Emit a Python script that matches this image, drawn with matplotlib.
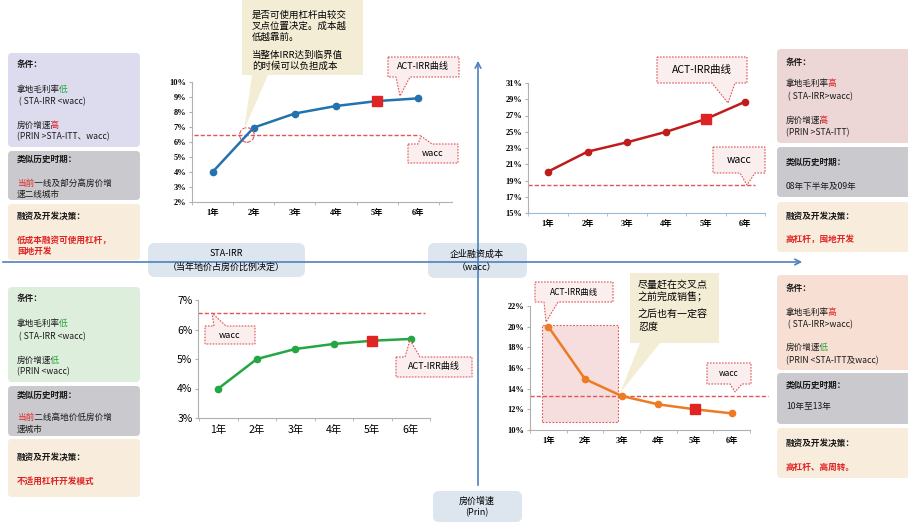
import matplotlib
matplotlib.use("Agg")
import matplotlib.pyplot as plt
from matplotlib.patches import FancyBboxPatch, Polygon, Rectangle
from matplotlib.ticker import PercentFormatter
from matplotlib.transforms import Bbox, TransformedBbox
import numpy as np

plt.rcParams['font.family'] = ['Noto Sans CJK SC', 'DejaVu Sans']

# ── data ─────────────────────────────────────────────────────────────────────
years = ['1年', '2年', '3年', '4年', '5年', '6年']
tl_irr = [4.0, 6.96, 7.9, 8.4, 8.73, 8.91]
tl_wacc = 6.47
tr_irr = [20.1, 22.55, 23.7, 25.0, 26.57, 28.7]
tr_wacc = 18.45
bl_irr = [4.0, 5.0, 5.34, 5.51, 5.62, 5.68]
bl_wacc = 6.57
br_irr = [20.0, 14.93, 13.29, 12.48, 12.0, 11.61]
br_wacc = 13.32

W, H = 908, 527
RED = "#e02424"
GREEN = "#22a33a"
WACC_C = "#e05555"

fig = plt.figure(figsize=(W / 100, H / 100), dpi=100)
renderer = fig.canvas.get_renderer()


def ax_px(l, t, r, b):
    return fig.add_axes([l / W, 1 - b / H, (r - l) / W, (b - t) / H])


def style_chart(ax, ylo, yhi, step, xl, xr, fs=6, serif=True, spine_c="#b0b0b0"):
    ax.set_xlim(xl, xr)
    ax.set_ylim(ylo, yhi)
    ax.set_yticks(np.arange(ylo, yhi + 0.01, step))
    ax.yaxis.set_major_formatter(PercentFormatter(decimals=0))
    ax.set_xticks(range(len(years)))
    fam = ['Liberation Serif', 'Noto Sans CJK SC'] if serif else ['Noto Sans CJK SC']
    ax.set_xticklabels(years, fontsize=fs, family=fam, fontweight='bold' if serif else 'normal')
    for lab in ax.get_yticklabels():
        lab.set_family(fam)
        lab.set_fontsize(fs)
        if serif:
            lab.set_fontweight('bold')
    ax.set_xticks(np.arange(-0.5, len(years), 1), minor=True)
    ax.tick_params(axis='x', which='major', length=0, pad=5)
    ax.tick_params(axis='x', which='minor', length=2, color=spine_c)
    ax.tick_params(axis='y', length=2, color="#b0b0b0", pad=2)
    for s in ('top', 'right'):
        ax.spines[s].set_visible(False)
    ax.spines['left'].set_color("#b0b0b0")
    ax.spines['bottom'].set_color(spine_c)
    ax.patch.set_alpha(0)


x = np.arange(len(years))

# top-left chart
ax1 = ax_px(192, 82, 452, 202)
style_chart(ax1, 2, 10, 1, -0.46, 5.82)
ax1.hlines(tl_wacc, -0.46, 5.05, colors=WACC_C, linestyles=(0, (3, 1.5)), lw=1)
ax1.plot(x, tl_irr, color="#2372b0", lw=1.8, marker='o', ms=4.5, zorder=3)
ax1.plot(x[4], tl_irr[4], 's', color=RED, ms=7, zorder=4)
xc = np.interp(tl_wacc, tl_irr[:2], x[:2])
ax1.scatter([xc], [tl_wacc], s=110, facecolors='none', edgecolors=WACC_C,
            linestyle='--', lw=0.8, zorder=5)

# top-right chart
ax2 = ax_px(528, 83, 765, 213)
style_chart(ax2, 15, 31, 2, -0.51, 5.5, spine_c="#9ab8d8")
ax2.hlines(tr_wacc, -0.51, 5.25, colors=WACC_C, linestyles=(0, (3, 1.5)), lw=1)
ax2.plot(x, tr_irr, color="#c01c1c", lw=1.8, marker='o', ms=4.5, zorder=3)
ax2.plot(x[4], tr_irr[4], 's', color=RED, ms=7, zorder=4)

# bottom-left chart
ax3 = ax_px(198, 300, 430, 418)
style_chart(ax3, 3, 7, 1, -0.53, 5.36, fs=7.5, serif=False)
ax3.hlines(bl_wacc, -0.53, 5.36, colors=WACC_C, linestyles=(0, (3, 1.5)), lw=1)
ax3.plot(x, bl_irr, color="#25a644", lw=1.8, marker='o', ms=4.5, zorder=3)
ax3.plot(x[4], bl_irr[4], 's', color=RED, ms=7, zorder=4)

# bottom-right chart
ax4 = ax_px(530, 306, 750, 430)
style_chart(ax4, 10, 22, 2, -0.49, 5.46)
ax4.add_patch(Rectangle((-0.16, 10.77), 2.05, 9.4, facecolor="#f6dede", edgecolor=WACC_C,
                        linestyle=(0, (1.5, 1.5)), lw=0.8, zorder=1))
ax4.hlines(br_wacc, -0.49, 6.0, colors=WACC_C, linestyles=(0, (3, 1.5)), lw=1, clip_on=False)
ax4.plot(x, br_irr, color="#ee7a22", lw=1.8, marker='o', ms=4.5, zorder=3)
ax4.plot(x[4], br_irr[4], 's', color=RED, ms=7, zorder=4)

# ── overlay for boxes, arrows and notes ──────────────────────────────────────
ov = fig.add_axes([0, 0, 1, 1])
ov.set_xlim(0, W)
ov.set_ylim(H, 0)
ov.axis('off')
ov.patch.set_alpha(0)

AX_C = "#4f81bd"
ov.annotate('', xy=(805, 262), xytext=(0, 262),
            arrowprops=dict(arrowstyle='->', color=AX_C, lw=1.2))
ov.annotate('', xy=(478, 58), xytext=(478, 488),
            arrowprops=dict(arrowstyle='->', color=AX_C, lw=1.2))


def rbox(x0, y0, x1, y1, fc, r=4, z=2):
    ov.add_patch(FancyBboxPatch((x0, y0), x1 - x0, y1 - y0,
                                boxstyle=f"round,pad=0,rounding_size={r}",
                                fc=fc, ec='none', zorder=z))


# axis label boxes
LB = "#dde5ef"
rbox(148, 243, 305, 277, LB, r=7)
ov.text(226, 253, "STA-IRR", ha='center', va='center', fontsize=6.5)
ov.text(226, 267, "（当年地价占房价比例决定）", ha='center', va='center', fontsize=6.5)
rbox(428, 243, 527, 278, LB, r=7)
ov.text(477, 254, "企业融资成本", ha='center', va='center', fontsize=6.5)
ov.text(477, 268, "（wacc）", ha='center', va='center', fontsize=6.5)
rbox(433, 491, 522, 522, LB, r=6)
ov.text(477, 501, "房价增速", ha='center', va='center', fontsize=6.5)
ov.text(477, 513, "(Prin)", ha='center', va='center', fontsize=6.5)

FS = 6.2


def line(xp, yp, parts, weight='normal'):
    kw = dict(ha='left', va='center', fontsize=FS, fontweight=weight, zorder=3)
    full = "".join(p[0] for p in parts)
    if len(parts) == 1:
        ov.text(xp, yp, full, color=parts[0][1], **kw)
        return
    # same string drawn once per colour, each copy clipped to its own run of
    # (equal-width) CJK characters
    probe = ov.text(xp, yp, full, **kw)
    w = probe.get_window_extent(renderer).width
    probe.remove()
    per = w / len(full)
    pos = 0
    for i, (txt, col) in enumerate(parts):
        x0 = xp - 5 if i == 0 else xp + pos * per
        pos += len(txt)
        x1 = xp + w + 5 if i == len(parts) - 1 else xp + pos * per
        t = ov.text(xp, yp, full, color=col, **kw)
        t.set_clip_on(True)
        t.set_clip_box(TransformedBbox(Bbox([[x0, yp - 8], [x1, yp + 8]]), ov.transData))


def panel(xp, boxes, c1, texts):
    for (y0, y1), fc in zip(boxes, [c1, "#cacace", "#f8ecdc"]):
        rbox(xp[0], y0, xp[1], y1, fc)
    tx = xp[0] + 9
    for yp, parts, wt in texts:
        line(tx, yp, parts, wt)


K = "#1a1a1a"
panel((8, 140), [(53, 147), (151, 200), (204, 260)], "#dcdcee", [
    (65, [("条件：", K)], 'bold'),
    (89, [("拿地毛利率", K), ("低", GREEN)], 'normal'),
    (102, [(" ( STA-IRR <wacc)", K)], 'normal'),
    (125, [("房价增速", K), ("高", RED)], 'normal'),
    (137, [("(PRIN >STA-ITT、wacc)", K)], 'normal'),
    (159, [("类似历史时期：", K)], 'bold'),
    (183, [("当前", RED), ("一线及部分高房价增", K)], 'normal'),
    (194, [("速二线城市", K)], 'normal'),
    (216, [("融资及开发决策：", K)], 'bold'),
    (240, [("低成本融资可使用杠杆，", RED)], 'bold'),
    (251, [("囤地开发", RED)], 'bold'),
])
panel((8, 140), [(287, 382), (386, 436), (439, 497)], "#deeedd", [
    (299, [("条件：", K)], 'bold'),
    (323, [("拿地毛利率", K), ("低", GREEN)], 'normal'),
    (337, [(" ( STA-IRR <wacc)", K)], 'normal'),
    (360, [("房价增速", K), ("低", GREEN)], 'normal'),
    (372, [("(PRIN <wacc)", K)], 'normal'),
    (395, [("类似历史时期：", K)], 'bold'),
    (417, [("当前", RED), ("二线高地价低房价增", K)], 'normal'),
    (429, [("速城市", K)], 'normal'),
    (457, [("融资及开发决策：", K)], 'bold'),
    (481, [("不适用杠杆开发模式", RED)], 'bold'),
])
panel((777, 912), [(49, 143), (147, 197), (202, 252)], "#ecd6d6", [
    (62, [("条件：", K)], 'bold'),
    (83, [("拿地毛利率", K), ("高", RED)], 'normal'),
    (97, [(" ( STA-IRR>wacc)", K)], 'normal'),
    (120, [("房价增速", K), ("高", RED)], 'normal'),
    (133, [("(PRIN >STA-ITT)", K)], 'normal'),
    (162, [("类似历史时期：", K)], 'bold'),
    (187, [("08年下半年及09年", K)], 'normal'),
    (216, [("融资及开发决策：", K)], 'bold'),
    (239, [("高杠杆，囤地开发", RED)], 'bold'),
])
panel((777, 912), [(275, 370), (373, 424), (428, 478)], "#f7e0d3", [
    (288, [("条件：", K)], 'bold'),
    (312, [("拿地毛利率", K), ("高", RED)], 'normal'),
    (325, [(" ( STA-IRR>wacc)", K)], 'normal'),
    (347, [("房价增速", K), ("低", GREEN)], 'normal'),
    (361, [("(PRIN <STA-ITT及wacc)", K)], 'normal'),
    (385, [("类似历史时期：", K)], 'bold'),
    (407, [("10年至13年", K)], 'normal'),
    (443, [("融资及开发决策：", K)], 'bold'),
    (467, [("高杠杆、高周转。", RED)], 'bold'),
])


def bubble(x0, y0, x1, y1, side, b0, b1, tip, fc, ec=None, z=6):
    if side == 'bottom':
        pts = [(x0, y0), (x1, y0), (x1, y1), (b1, y1), tip, (b0, y1), (x0, y1)]
    else:
        pts = [(x0, y0), (b0, y0), tip, (b1, y0), (x1, y0), (x1, y1), (x0, y1)]
    if ec:
        ov.add_patch(Polygon(pts, closed=True, fc=fc, ec=ec, lw=0.8,
                             linestyle=(0, (1.5, 1.2)), zorder=z))
    else:
        ov.add_patch(Polygon(pts, closed=True, fc=fc, ec='none', zorder=z))


PK = "#fbeeee"
# speech bubbles on the charts
bubble(388, 57, 459, 77, 'bottom', 396, 410, (400, 96), PK, WACC_C)
ov.text(423, 67, "ACT-IRR曲线", ha='center', va='center', fontsize=6.5, zorder=7)
bubble(408, 144, 458, 163, 'top', 418, 432, (421, 136), PK, WACC_C)
ov.text(433, 154, "wacc", ha='center', va='center', fontsize=6.5, zorder=7)

bubble(657, 57, 747, 83, 'bottom', 712, 735, (728, 103), PK, WACC_C)
ov.text(702, 70, "ACT-IRR曲线", ha='center', va='center', fontsize=7.5, zorder=7)
bubble(713, 147, 765, 173, 'bottom', 740, 755, (747, 185), PK, WACC_C)
ov.text(739, 160, "wacc", ha='center', va='center', fontsize=7.5, zorder=7)

bubble(205, 326, 255, 344, 'top', 214, 226, (212, 313), PK, WACC_C)
ov.text(230, 335, "wacc", ha='center', va='center', fontsize=6.5, zorder=7)
bubble(396, 357, 472, 377, 'top', 405, 420, (410, 340), PK, WACC_C)
ov.text(434, 367, "ACT-IRR曲线", ha='center', va='center', fontsize=6.5, zorder=7)

bubble(535, 282, 613, 302, 'bottom', 544, 558, (546, 322), PK, WACC_C)
ov.text(574, 292, "ACT-IRR曲线", ha='center', va='center', fontsize=6, zorder=7)
bubble(707, 363, 751, 384, 'bottom', 730, 742, (735, 392), PK, WACC_C)
ov.text(729, 373, "wacc", ha='center', va='center', fontsize=6, zorder=7)

# beige notes
BG = "#f4edd6"
bubble(242, 0, 363, 75, 'bottom', 252, 268, (244, 130), BG)
for yp, t in [(15, "是否可使用杠杆由较交"), (26, "叉点位置决定。成本越"), (37, "低越靠前。"),
              (55, "当整体IRR达到临界值"), (66, "的时候可以负担成本")]:
    ov.text(252, yp, t, ha='left', va='center', fontsize=6.8, zorder=7)

bubble(630, 273, 719, 343, 'bottom', 640, 660, (620, 393), BG)
for yp, t in [(285, "尽量赶在交叉点"), (297, "之前完成销售；"), (315, "之后也有一定容"), (327, "忍度")]:
    ov.text(638, yp, t, ha='left', va='center', fontsize=7.2, zorder=7)

fig.savefig("out.png", dpi=100)
